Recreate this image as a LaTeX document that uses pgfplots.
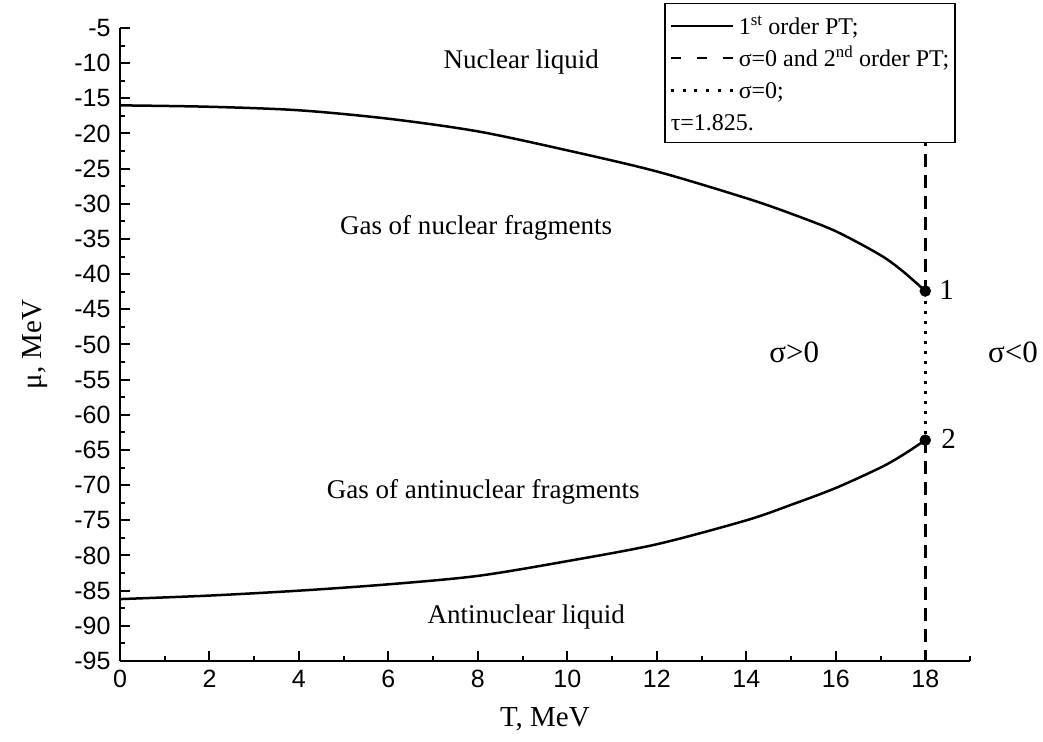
\documentclass[border=0pt]{standalone}
\usepackage{fontspec}
\setmainfont{Liberation Serif}
\newfontfamily\arial{Liberation Sans}
\usepackage{pgfplots}
\usepackage{pgfplotstable}
\pgfplotsset{compat=1.18}
\usetikzlibrary{calc}

\pgfplotstableread{
T mu
0 -16.0
2 -16.2
4 -16.7
6 -17.9
8 -19.7
10 -22.4
12 -25.4
14 -29.2
15 -31.4
16 -33.9
17 -37.3
17.5 -39.6
18 -42.4
}\upperdata

\pgfplotstableread{
T mu
0 -86.2
2 -85.7
4 -85.0
6 -84.1
8 -82.9
10 -80.8
12 -78.4
14 -75.0
15 -72.8
16 -70.4
17 -67.5
17.5 -65.7
18 -63.6
}\lowerdata

\begin{document}
\begin{tikzpicture}
\begin{axis}[
  scale only axis, width=850bp, height=633bp,
  xmin=0, xmax=19, ymin=-95, ymax=-5,
  axis lines=left, axis line style={-, line width=2.5bp},
  xtick={0,2,...,18}, minor xtick={1,3,...,19},
  ytick={-95,-90,...,-5}, minor ytick={-92.5,-87.5,...,-7.5},
  yticklabels={-95,-90,-85,-80,-75,-70,-65,-60,-55,-50,-45,-40,-35,-30,-25,-20,-15,-10,-5},
  tick align=inside, major tick length=10bp, minor tick length=5bp,
  every tick/.append style={black, line width=2bp},
  ticklabel style={font=\arial\fontsize{25bp}{25bp}\selectfont},
  yticklabel style={xshift=-6bp},
  xticklabel style={yshift=-6bp},
  /pgf/number format/assume math mode=true,
  xlabel={T, MeV}, ylabel={μ, MeV},
  label style={font=\fontsize{29bp}{32bp}\selectfont},
  xlabel style={at={(axis description cs:0.5,-0.092)}, anchor=center},
  ylabel style={at={(axis description cs:-0.1,0.5)}, anchor=center},
  clip=false,
]
\coordinate (bl) at (rel axis cs:0,0);
\coordinate (tr) at (rel axis cs:1,1);

\addplot[black, line width=2.5bp, smooth] table[x=T, y=mu] {\upperdata};
\addplot[black, line width=2.5bp, smooth] table[x=T, y=mu] {\lowerdata};

\addplot[black, line width=2.5bp, dash pattern=on 13bp off 8bp] coordinates {(18,-5) (18,-42.4)};
\addplot[black, line width=3bp, dash pattern=on 3bp off 7bp] coordinates {(18,-42.4) (18,-63.6)};
\addplot[black, line width=2.5bp, dash pattern=on 13bp off 8bp] coordinates {(18,-63.6) (18,-95)};
\addplot[black, only marks, mark=*, mark size=5.5bp] coordinates {(18,-42.4) (18,-63.6)};

\begin{scope}[every node/.style={font=\fontsize{27bp}{30bp}\selectfont}]
\node at (axis cs:8.97,-9.8) {Nuclear liquid};
\node at (axis cs:7.96,-33.4) {Gas of nuclear fragments};
\node at (axis cs:8.12,-71.0) {Gas of antinuclear fragments};
\node at (axis cs:9.08,-88.8) {Antinuclear liquid};
\end{scope}
\begin{scope}[every node/.style={font=\fontsize{31bp}{34bp}\selectfont}]
\node at (axis cs:15.07,-51.1) {σ>0};
\node at (axis cs:19.96,-51.1) {σ<0};
\end{scope}
\begin{scope}[every node/.style={font=\fontsize{29bp}{32bp}\selectfont}]
\node at (axis cs:18.48,-42.2) {1};
\node at (axis cs:18.52,-63.4) {2};
\end{scope}

\node[draw=black, line width=1.5bp, fill=white, anchor=north west, inner xsep=6bp, inner ysep=12bp, align=left,
      font=\fontsize{24bp}{32bp}\selectfont] at (axis description cs:0.64,1.0395) {%
\rule[0.28em]{62bp}{2bp}\hspace{6bp}1\textsuperscript{st} order PT;\\
\rule[0.28em]{10bp}{2bp}\hspace{16bp}\rule[0.28em]{10bp}{2bp}\hspace{16bp}\rule[0.28em]{10bp}{2bp}\hspace{6bp}σ=0 and 2\textsuperscript{nd} order PT;\\
\rule[0.25em]{3bp}{3bp}\hspace{8.8bp}\rule[0.25em]{3bp}{3bp}\hspace{8.8bp}\rule[0.25em]{3bp}{3bp}\hspace{8.8bp}\rule[0.25em]{3bp}{3bp}\hspace{8.8bp}\rule[0.25em]{3bp}{3bp}\hspace{8.8bp}\rule[0.25em]{3bp}{3bp}\hspace{6bp}σ=0;\\
τ=1.825.};
\end{axis}
\pgfresetboundingbox
\path ($(bl)+(-120bp,-81bp)$) rectangle ($(tr)+(73bp,28bp)$);
\end{tikzpicture}
\end{document}
